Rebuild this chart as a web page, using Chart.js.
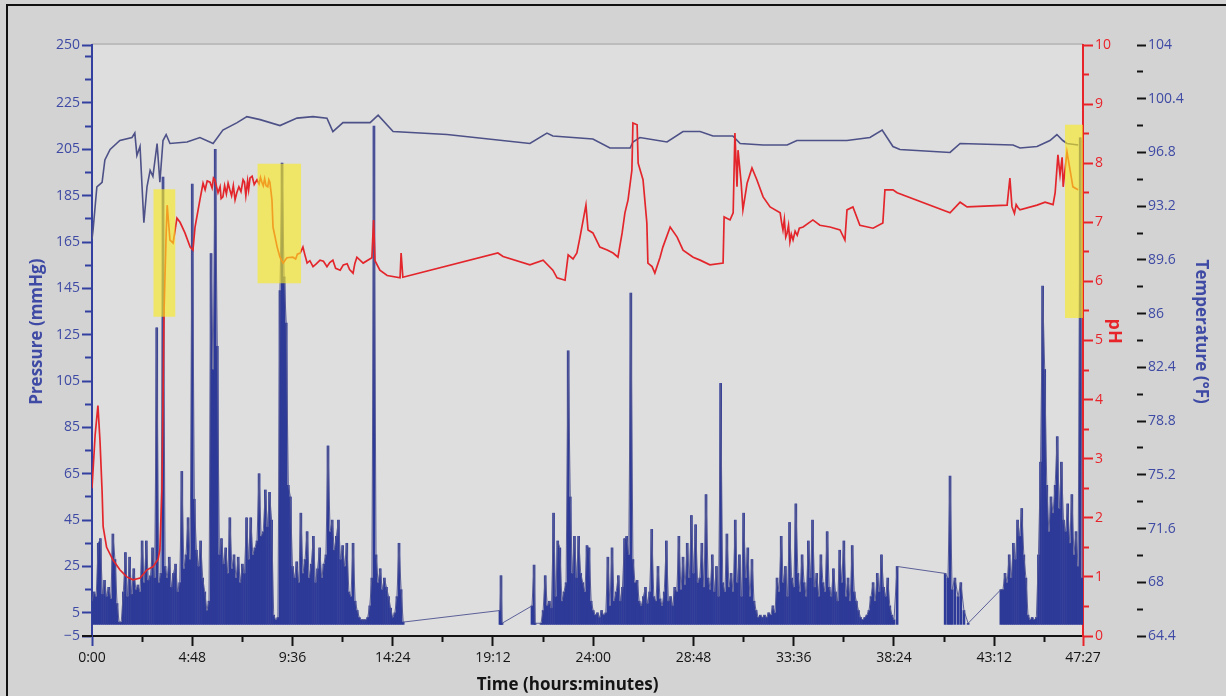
<!DOCTYPE html>
<html>
<head>
<meta charset="utf-8">
<script src="https://cdn.jsdelivr.net/npm/chart.js@4.4.0/dist/chart.umd.min.js"></script>
<style>
html,body{margin:0;padding:0;background:#d3d3d3;}
#wrap{position:relative;width:1226px;height:696px;overflow:hidden;}
canvas{display:block;}
</style>
</head>
<body>
<div id="wrap"><canvas id="c" width="1226" height="696"></canvas></div>
<script>
// ---------- axis ticks ----------
const xMajorMinutes = [0,288,576,864,1152,1440,1728,2016,2304,2592,2847];
const xMinorMinutes = [144,432,720,1008,1296,1584,1872,2160,2448,2736];
const pressureMajorTicks = [-5,5,25,45,65,85,105,125,145,165,185,205,225,250];
const pressureMinorTicks = [15,35,55,75,95,115,135,155,175,195,215,235,245];
const phMajorTicks = [0,1,2,3,4,5,6,7,8,9,10];
const phMinorTicks = [0.5,1.5,2.5,3.5,4.5,5.5,6.5,7.5,8.5,9.5];
const tempMajorTicks = [64.4,68,71.6,75.2,78.8,82.4,86,89.6,93.2,96.8,100.4,104];
const tempMinorTicks = [66.2,69.8,73.4,77,80.6,84.2,87.8,91.4,95,98.6,102.2];

// ---------- pressure (mmHg), regular 6-minute samples ----------
const pressureSeg1Start = 0, pressureSeg1Step = 6;
const pressureSeg1 = [10,14,12,35,37,13,19,12,16,11,39,28,9,
  1,1,
  14,31,12,29,13,24,15,17,14,36,18,36,19,21,33,20,128,
  18,22,193,25,
  20,29,16,22,26,14,18,
  66,24,30,46,28,190,54,32,25,36,20,14,6,
  10,160,110,205,120,
  30,37,26,33,22,46,24,30,20,29,18,
  26,22,46,28,46,30,33,36,65,38,40,58,42,57,45,
  4,2,3,
  144,199,150,130,60,
  55,25,20,27,18,48,22,28,40,20,26,38,18,24,33,20,26,30,
  77,40,45,32,38,45,28,34,25,35,14,12,35,10,6,
  3,2,2,2,3,8,20,215,30,18,24,15,20,16,12,7,3,5,12,35,15,1];
// sparse readings in the quiet stretch [minute, mmHg]
const pressureSparse1 = [[1172,6],[1175,21],[1178,0.5],[1264,8],[1270,25.6],[1273,0.5],[1290,0.5]];
const pressureSeg2Start = 1296, pressureSeg2Step = 6;
const pressureSeg2 = [6,21,8,10,7,48,12,36,33,10,14,18,
  118,55,22,38,20,38,22,18,14,34,33,10,
  6,4,5,3,6,4,5,
  29,8,33,10,14,21,10,16,37,38,30,
  143,28,18,19,10,8,12,16,9,14,
  41,12,10,25,11,8,14,36,10,12,8,
  16,14,38,15,29,17,35,20,47,22,43,
  18,20,35,16,56,20,15,30,14,25,12,104,18,14,39,16,
  22,14,45,18,30,12,48,20,33,12,28,10,6,3,4,3,4,3,5,4,8,5,
  20,14,38,18,25,12,44,20,16,52,22,14,30,18,12,36,20,45,16,22,12,30,18,14,40,16,12,24,14,10,32,18,36,12,20,10,34,14,10,6,3,
  2,3,4,6,12,18,10,22,14,30,16,12,20,8,4,2];
const pressureSparse2 = [[2313,25],[2451,22],[2459,20],[2465,64],[2471,15],[2479,20],[2488,12],[2496,18],[2505,6],[2517,0.5],[2611,15]];
const pressureSeg3Start = 2617, pressureSeg3Step = 6;
const pressureSeg3 = [15,22,18,30,20,35,28,45,38,50,30,20,4,2,3,2,3,30,70,146,110,60,40,55,48,60,81,50,70,45,40,52,35,56,30,40,25,210,20];

// ---------- temperature (°F) [minute, value] ----------
const temperatureReadings = [[0,91.0],[3,91.6],[14,94.5],[29,94.8],[37,96.3],[52,97.0],[80,97.6],[115,97.8],[123,98.1],[129,96.6],[138,97.2],[149,92.1],[158,94.5],[167,95.6],[175,95.2],[187,97.4],[195,94.8],[204,97.6],[213,98.0],[224,97.4],[273,97.5],[310,97.8],[348,97.4],[376,98.3],[417,98.8],[445,99.2],[483,99.0],[540,98.6],[589,99.1],[635,99.2],[675,99.1],[692,98.2],[721,98.8],[799,98.8],[822,99.3],[865,98.2],[1020,98.0],[1258,97.4],[1307,98.1],[1324,97.9],[1439,97.7],[1488,97.1],[1546,97.1],[1554,97.5],[1574,97.8],[1652,97.5],[1698,98.2],[1747,98.2],[1784,97.9],[1841,97.9],[1862,97.4],[1928,97.3],[1997,97.3],[2025,97.6],[2169,97.6],[2235,97.8],[2270,98.3],[2301,97.2],[2321,97.0],[2465,96.8],[2494,97.4],[2646,97.3],[2666,97.1],[2715,97.2],[2752,97.6],[2772,98.0],[2789,97.6],[2801,97.4],[2833,97.3]];

// ---------- pH [minute, value] ----------
const phReadings = [[0,2.5],[9,3.4],[17,3.9],[23,3.3],[29,2.45],[32,1.85],[42,1.5],[60,1.29],[80,1.12],[100,1.0],[118,0.95],[138,0.98],[158,1.12],[175,1.17],[190,1.3],[195,1.46],[201,2.5],[207,5.5],[213,6.8],[216,7.29],[224,6.7],[233,6.65],[244,7.07],[253,7.0],[267,6.82],[282,6.58],[290,6.53],[296,6.92],[310,7.38],[319,7.66],[325,7.55],[331,7.7],[339,7.68],[345,7.58],[349,7.75],[353,7.72],[357,7.62],[362,7.5],[368,7.6],[371,7.4],[376,7.43],[381,7.62],[386,7.48],[391,7.66],[396,7.55],[401,7.45],[406,7.62],[411,7.38],[416,7.5],[422,7.6],[428,7.52],[434,7.72],[438,7.68],[442,7.45],[447,7.7],[450,7.55],[454,7.75],[460,7.78],[466,7.64],[474,7.72],[480,7.65],[484,7.76],[488,7.68],[492,7.62],[496,7.74],[500,7.62],[505,7.6],[508,7.72],[511,7.68],[517,7.38],[520,6.92],[532,6.58],[540,6.41],[549,6.31],[560,6.4],[577,6.41],[585,6.38],[590,6.46],[598,6.48],[606,6.58],[612,6.44],[618,6.31],[626,6.35],[635,6.25],[645,6.3],[655,6.36],[665,6.34],[675,6.25],[683,6.32],[692,6.36],[700,6.22],[713,6.19],[722,6.28],[733,6.3],[740,6.2],[750,6.14],[755,6.3],[761,6.41],[779,6.31],[804,6.4],[809,7.04],[813,6.35],[827,6.19],[848,6.1],[885,6.06],[888,6.48],[893,6.07],[1166,6.48],[1181,6.42],[1258,6.28],[1296,6.36],[1324,6.19],[1336,6.06],[1359,6.02],[1368,6.45],[1382,6.38],[1393,6.48],[1402,6.75],[1419,7.29],[1425,6.87],[1439,6.82],[1459,6.58],[1480,6.53],[1497,6.48],[1511,6.41],[1523,6.82],[1531,7.16],[1540,7.38],[1551,7.88],[1554,8.68],[1566,8.65],[1569,8.0],[1583,7.72],[1594,6.99],[1597,6.31],[1609,6.25],[1617,6.14],[1632,6.41],[1640,6.58],[1661,6.92],[1681,6.75],[1698,6.53],[1727,6.41],[1747,6.36],[1775,6.28],[1813,6.31],[1816,7.09],[1833,7.04],[1842,7.16],[1847,8.51],[1853,7.6],[1856,8.22],[1865,7.66],[1870,7.21],[1882,7.66],[1896,7.92],[1910,7.72],[1928,7.43],[1948,7.26],[1977,7.16],[1981,7.0],[1985,6.87],[1989,7.05],[1993,6.75],[1997,6.82],[2001,6.95],[2005,6.67],[2009,6.8],[2014,6.7],[2020,6.85],[2026,6.78],[2032,6.9],[2043,6.92],[2071,7.04],[2091,6.95],[2120,6.92],[2149,6.87],[2163,6.7],[2169,7.21],[2186,7.26],[2206,6.95],[2244,6.9],[2272,6.99],[2278,7.55],[2301,7.55],[2313,7.5],[2465,7.16],[2494,7.34],[2514,7.26],[2629,7.29],[2637,7.75],[2643,7.26],[2650,7.15],[2655,7.3],[2660,7.25],[2666,7.21],[2715,7.29],[2738,7.34],[2761,7.3],[2767,7.5],[2775,8.14],[2781,7.8],[2787,8.1],[2790,7.6],[2801,8.19],[2810,7.88],[2818,7.6],[2833,7.55]];

// ---------- highlighted intervals (minutes, pH units) ----------
const highlightStartMin = [176, 475, 2795];
const highlightEndMin = [240, 601, 2861];
const highlightTopPH = [7.56, 7.99, 8.65];
const highlightBottomPH = [5.40, 5.97, 5.38];

// ---------- build ----------
function regular(start, step, vals){ return vals.map((v,i)=>({x:start+i*step, y:v})); }
function pairs(arr){ return arr.map(p=>({x:p[0], y:p[1]})); }
const pressurePoints = [].concat(
  regular(pressureSeg1Start, pressureSeg1Step, pressureSeg1),
  pairs(pressureSparse1),
  regular(pressureSeg2Start, pressureSeg2Step, pressureSeg2),
  pairs(pressureSparse2),
  regular(pressureSeg3Start, pressureSeg3Step, pressureSeg3)
);
function fmtTime(m){ m = Math.round(m); return Math.floor(m/60)+':'+String(m%60).padStart(2,'0'); }
const NB = '\u00a0';
const BLUE_AX = '#3340a0', BLUE_TXT = '#3e4aa4', RED = '#e8242b', BLACK = '#141414';
const YELLOW = 'rgba(250,234,30,0.62)';

const highlightSets = [];
highlightStartMin.forEach((s,i)=>{
  highlightSets.push({type:'line', data:[{x:s,y:highlightTopPH[i]},{x:highlightEndMin[i],y:highlightTopPH[i]}],
    yAxisID:'yPH', xAxisID:'x', borderWidth:0, borderColor:'rgba(0,0,0,0)', pointRadius:0, fill:'+1', backgroundColor:YELLOW, order:0});
  highlightSets.push({type:'line', data:[{x:s,y:highlightBottomPH[i]},{x:highlightEndMin[i],y:highlightBottomPH[i]}],
    yAxisID:'yPH', xAxisID:'x', borderWidth:0, borderColor:'rgba(0,0,0,0)', pointRadius:0, fill:false, order:0});
});

const decor = {
  id:'decor',
  beforeDraw(chart){
    const {ctx, chartArea:a} = chart;
    ctx.save();
    ctx.fillStyle='#d3d3d3'; ctx.fillRect(0,0,chart.width,chart.height);
    ctx.fillStyle='#dedede'; ctx.fillRect(a.left,a.top,a.right-a.left,a.bottom-a.top);
    ctx.fillStyle='#bcbcbc'; ctx.fillRect(a.left,a.top-2,a.right-a.left,2);
    ctx.fillStyle='#111'; ctx.fillRect(6,4,chart.width-6,2); ctx.fillRect(6,4,2,chart.height-4);
    ctx.restore();
  },
  afterDraw(chart){
    const {ctx, chartArea:a} = chart;
    ctx.save(); ctx.strokeStyle=BLACK; ctx.lineWidth=2;
    ctx.beginPath(); ctx.moveTo(a.left-10,a.bottom); ctx.lineTo(a.left,a.bottom); ctx.stroke();
    ctx.restore();
  }
};

// a zero-size companion axis that only draws shorter minor tick marks
function minorAxis(position, min, max, ticks, len, color, weight){
  return {type:'linear', position, min, max, weight, display:true, offset:false,
    afterBuildTicks:s=>{ s.ticks = ticks.map(v=>({value:v})); },
    afterFit:s=>{ if (position==='bottom') s.height = 0; else s.width = 0; },
    grid:{offset:false, drawOnChartArea:false, drawTicks:true, tickLength:len, tickWidth:2, tickColor:color},
    border:{display:false},
    ticks:{display:false},
    title:{display:false}
  };
}
const xTickColors = xMajorMinutes.map((v,i)=> i===0 ? BLUE_AX : (i===xMajorMinutes.length-1 ? RED : BLACK));

Chart.defaults.font.family = "'Open Sans', 'DejaVu Sans', sans-serif";
new Chart(document.getElementById('c'), {
  type:'line',
  data:{ datasets: highlightSets.concat([
    {type:'line', label:'pH', data:pairs(phReadings), yAxisID:'yPH', xAxisID:'x', borderColor:'#e3262c', borderWidth:1.7, pointRadius:0, tension:0, fill:false, order:1},
    {type:'line', label:'Temperature', data:pairs(temperatureReadings), yAxisID:'yT', xAxisID:'x', borderColor:'#4d5187', borderWidth:1.6, pointRadius:0, tension:0, fill:false, order:2},
    {type:'line', label:'Pressure', data:pressurePoints.map(p=>({x:p.x,y:p.y})), yAxisID:'yP', xAxisID:'x', borderColor:'rgba(84,88,148,0.95)', borderWidth:1, pointRadius:0, tension:0, fill:false, order:3},
    {type:'bar', label:'Pressure samples', data:pressurePoints.map(p=>({x:p.x,y:p.y})), yAxisID:'yP', xAxisID:'x', backgroundColor:'#2e3a97', borderWidth:0, barThickness:2, grouped:false, order:4}
  ])},
  options:{
    responsive:false, animation:false, events:[],
    layout:{padding:{top:45, bottom:0, left:0, right:15}},
    plugins:{legend:{display:false}, tooltip:{enabled:false}},
    scales:{
      x:{type:'linear', position:'bottom', min:0, max:2847, offset:false, weight:0,
        afterBuildTicks:s=>{ s.ticks = xMajorMinutes.map(v=>({value:v})); },
        afterFit:s=>{ s.height = 60; },
        grid:{display:true, offset:false, drawOnChartArea:false, drawTicks:true, tickLength:10, tickWidth:2, tickColor:xTickColors},
        border:{display:true, color:BLACK, width:2},
        ticks:{autoSkip:false, maxRotation:0, minRotation:0, padding:4, color:BLACK, font:{size:14},
          callback:v=> fmtTime(v)},
        title:{display:true, text:'Time (hours:minutes)'+NB.repeat(9), color:BLACK, font:{size:17, weight:'bold'}, padding:{top:0,bottom:1}}
      },
      xMinor: minorAxis('bottom',0,2847,xMinorMinutes,6,BLACK,-1),
      yP:{type:'linear', position:'left', min:-5, max:250, weight:0,
        afterBuildTicks:s=>{ s.ticks = pressureMajorTicks.map(v=>({value:v})); },
        afterFit:s=>{ s.width = 92; },
        grid:{offset:false, drawOnChartArea:false, tickLength:10, tickWidth:2, tickColor:BLUE_AX},
        border:{display:true, color:BLUE_AX, width:2},
        ticks:{autoSkip:false, padding:2, color:BLUE_TXT, font:{size:14},
          callback:v=> v<0 ? '\u2212'+Math.abs(v) : String(v)},
        title:{display:true, text:NB.repeat(4)+'Pressure (mmHg)', color:BLUE_TXT, font:{size:17, weight:'bold'}, padding:{top:27,bottom:0}}
      },
      yPMinor: minorAxis('left',-5,250,pressureMinorTicks,7,BLUE_AX,-1),
      yPH:{type:'linear', position:'right', min:0, max:10, weight:0,
        afterBuildTicks:s=>{ s.ticks = phMajorTicks.map(v=>({value:v})); },
        afterFit:s=>{ s.width = 54; },
        grid:{offset:false, drawOnChartArea:false, tickLength:10, tickWidth:2, tickColor:RED},
        border:{display:true, color:RED, width:2},
        ticks:{autoSkip:false, padding:2, color:RED, font:{size:14},
          callback:v=> String(v)},
        title:{display:true, text:'pH'+NB.repeat(4), color:RED, font:{size:18, weight:'bold'}, padding:{top:12,bottom:0}}
      },
      yPHMinor: minorAxis('right',0,10,phMinorTicks,6,RED,-1),
      yTMinor: minorAxis('right',64.4,104,tempMinorTicks,6,BLACK,0.5),
      yT:{type:'linear', position:'right', min:64.4, max:104, weight:1,
        afterBuildTicks:s=>{ s.ticks = tempMajorTicks.map(v=>({value:v})); },
        afterFit:s=>{ s.width = 74; },
        grid:{offset:false, drawOnChartArea:false, tickLength:9, tickWidth:2, tickColor:BLACK},
        border:{display:false},
        ticks:{autoSkip:false, padding:2, color:BLUE_TXT, font:{size:14},
          callback:v=> String(Math.round(v*10)/10)},
        title:{display:true, text:'Temperature (°F)'+NB.repeat(4), color:BLUE_TXT, font:{size:17, weight:'bold'}, padding:{top:0,bottom:0}}
      }
    }
  },
  plugins:[decor]
});
</script>
</body>
</html>
